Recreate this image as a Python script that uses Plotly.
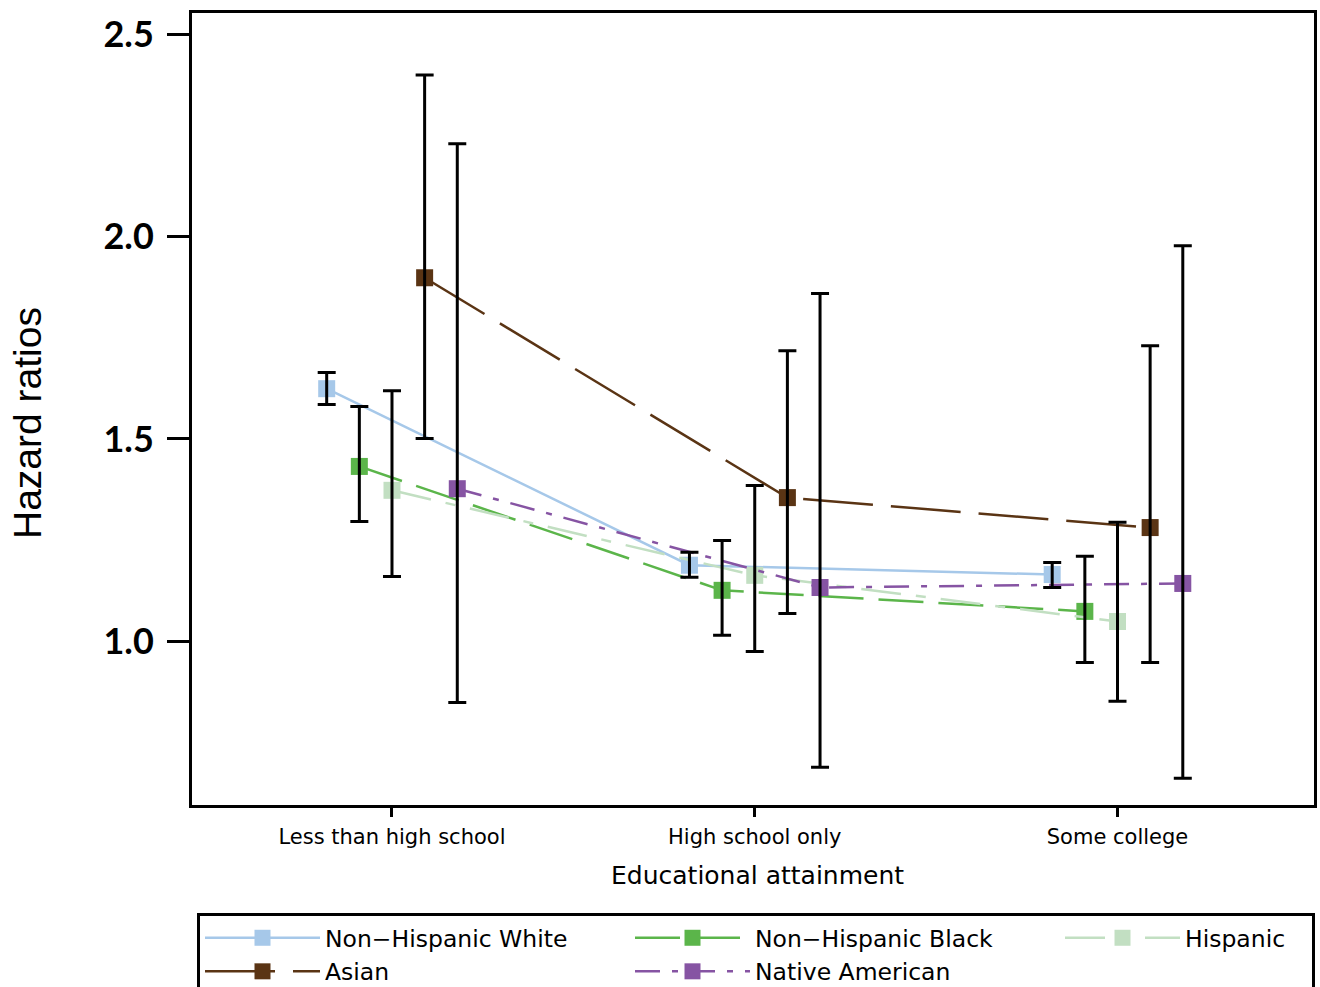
import plotly.graph_objects as go

# ---- data ----
categories = ["Less than high school", "High school only", "Some college"]
cat_pos = [1, 2, 3]
groups = ["Non\u2212Hispanic White", "Non\u2212Hispanic Black", "Hispanic", "Asian", "Native American"]

hr_white = [1.624, 1.188, 1.165]
lo_white = [1.585, 1.158, 1.133]
hi_white = [1.664, 1.220, 1.195]

hr_black = [1.432, 1.126, 1.074]
lo_black = [1.296, 1.015, 0.948]
hi_black = [1.580, 1.249, 1.210]

hr_hisp = [1.373, 1.163, 1.049]
lo_hisp = [1.160, 0.975, 0.852]
hi_hisp = [1.619, 1.385, 1.294]

hr_asian = [1.898, 1.355, 1.281]
lo_asian = [1.501, 1.069, 0.948]
hi_asian = [2.399, 1.718, 1.730]

hr_native = [1.377, 1.133, 1.143]
lo_native = [0.849, 0.689, 0.662]
hi_native = [2.229, 1.859, 1.977]

y_ticks = [1.0, 1.5, 2.0, 2.5]

# ---- styling ----
offsets = [-0.18, -0.09, 0.0, 0.09, 0.18]
colors = ["#a6c8e9", "#5bb54a", "#c2dfc2", "#5a3414", "#8654a3"]
dashes = ["solid", "45px,15px", "40px,15px,10px,15px", "70px,18px", "25px,12px,6px,12px"]
hrs = [hr_white, hr_black, hr_hisp, hr_asian, hr_native]
los = [lo_white, lo_black, lo_hisp, lo_asian, lo_native]
his = [hi_white, hi_black, hi_hisp, hi_asian, hi_native]

fig = go.Figure()

for i, name in enumerate(groups):
    xs = [c + offsets[i] for c in cat_pos]
    tr = dict(
        x=xs, y=hrs[i], name=name, mode="lines+markers",
        line=dict(color=colors[i], width=2.5, dash=dashes[i]),
        marker=dict(symbol="square", size=17, color=colors[i], line=dict(width=0)),
        hoverinfo="skip",
    )
    if name == "Hispanic":
        tr["legendwidth"] = 122
    fig.add_trace(go.Scatter(**tr))

for i, name in enumerate(groups):
    xs = [c + offsets[i] for c in cat_pos]
    fig.add_trace(go.Scatter(
        x=xs, y=hrs[i], mode="markers", showlegend=False, hoverinfo="skip",
        marker=dict(size=17, opacity=0),
        error_y=dict(type="data", symmetric=False,
                     array=[h - v for h, v in zip(his[i], hrs[i])],
                     arrayminus=[v - l for v, l in zip(hrs[i], los[i])],
                     color="black", thickness=3, width=9),
    ))

W, H = 1320, 987
ml, mr, mt, mb = 0, 4, 13, 182
gw = W - ml - mr
gh = H - mt - mb

def px_x(p):
    return (p - ml) / gw

def px_y(p):
    return (H - mb - p) / gh

fig.update_layout(
    width=W, height=H,
    margin=dict(l=ml, r=mr, t=mt, b=mb, autoexpand=False),
    plot_bgcolor="white", paper_bgcolor="white",
    showlegend=True,
    legend=dict(
        orientation="h", x=px_x(197), y=px_y(913), xanchor="left", yanchor="top",
        bordercolor="black", borderwidth=3, bgcolor="white",
        font=dict(family="DejaVu Sans", size=23.5, color="black"),
        itemwidth=115, entrywidth=300, entrywidthmode="pixels",
        traceorder="normal",
    ),
    xaxis=dict(
        domain=[px_x(192), px_x(1314)],
        range=[0.4487, 3.5417],
        tickmode="array", tickvals=cat_pos, ticktext=categories,
        ticks="outside", ticklen=9, tickwidth=2.5, tickcolor="black",
        showline=True, linecolor="black", linewidth=3, mirror=True,
        showgrid=False, zeroline=False,
        tickfont=dict(family="DejaVu Sans", size=21, color="black"),
        ticklabelstandoff=2,
    ),
    yaxis=dict(
        range=[0.5958, 2.5519],
        tickmode="array", tickvals=y_ticks, ticktext=[f"{v:.1f}" for v in y_ticks],
        ticks="outside", ticklen=22, tickwidth=3, tickcolor="black",
        showline=True, linecolor="black", linewidth=3, mirror=True,
        showgrid=False, zeroline=False,
        tickfont=dict(family="Lato", size=36, color="black", weight="bold"),
        ticklabelstandoff=6,
    ),
    annotations=[
        dict(text="Hazard ratios", textangle=-90, x=px_x(27), y=px_y(423),
             xref="paper", yref="paper", xanchor="center", yanchor="middle",
             showarrow=False, font=dict(family="Liberation Sans", size=39, color="black")),
        dict(text="Educational attainment", x=px_x(757.5), y=px_y(876),
             xref="paper", yref="paper", xanchor="center", yanchor="middle",
             showarrow=False, font=dict(family="DejaVu Sans", size=25, color="black")),
    ],
)

fig.write_html(
    "out.html",
    config={"displayModeBar": False},
    post_script="document.body.style.margin='0';document.body.style.overflow='hidden';",
)
